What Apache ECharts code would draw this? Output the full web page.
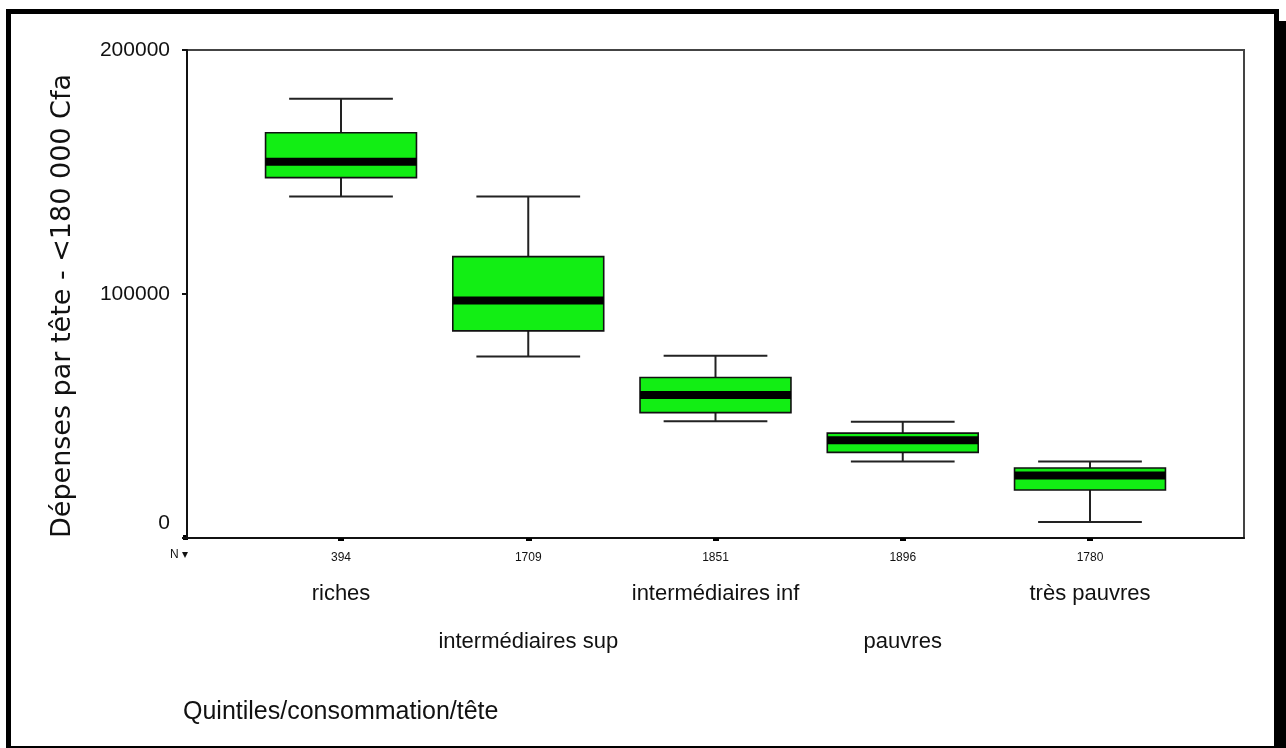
<!DOCTYPE html>
<html>
<head>
<meta charset="utf-8">
<script src="https://cdn.jsdelivr.net/npm/echarts@6/dist/echarts.min.js"></script>
<style>
  html, body { margin: 0; padding: 0; background: #fff; }
  #chart { width: 1286px; height: 748px; }
</style>
</head>
<body>
<div id="chart"></div>
<script>
// Quintile groups and sample sizes
const categories = ['riches', 'intermédiaires sup', 'intermédiaires inf', 'pauvres', 'très pauvres'];
const nCounts = ['394', '1709', '1851', '1896', '1780'];

// Box statistics (Cfa per head)
const whiskerLow  = [140000, 74400, 47800, 31400, 6600];
const quartile1   = [147700, 84900, 51400, 35100, 19700];
const median      = [154200, 97300, 58600, 40100, 25600];
const quartile3   = [166100, 115300, 65800, 43000, 28700];
const whiskerHigh = [180000, 140000, 74700, 47600, 31400];

// Value-axis ticks
const yTicks = [0, 100000, 200000];

const FONT = '"Liberation Sans", Arial, sans-serif';

const boxData = categories.map((c, i) => [
  i, whiskerLow[i], quartile1[i], median[i], quartile3[i], whiskerHigh[i]
]);

function renderBox(params, api) {
  const x = api.value(0);
  const lo = api.coord([x, api.value(1)]);
  const b1 = api.coord([x, api.value(2)]);
  const md = api.coord([x, api.value(3)]);
  const b3 = api.coord([x, api.value(4)]);
  const hi = api.coord([x, api.value(5)]);
  const unit = api.size([1, 0])[0];
  const halfBox = unit * 0.403;
  const halfCap = unit * 0.277;
  const cx = lo[0];
  const line = (x1, y1, x2, y2, w) => ({
    type: 'line',
    shape: { x1, y1, x2, y2 },
    style: { stroke: '#222', lineWidth: w }
  });
  return {
    type: 'group',
    children: [
      line(cx, b3[1], cx, hi[1], 2),
      line(cx, b1[1], cx, lo[1], 2),
      line(cx - halfCap, hi[1], cx + halfCap, hi[1], 2),
      line(cx - halfCap, lo[1], cx + halfCap, lo[1], 2),
      {
        type: 'rect',
        shape: { x: cx - halfBox, y: b3[1], width: halfBox * 2, height: b1[1] - b3[1] },
        style: { fill: '#12ee14', stroke: '#111', lineWidth: 1.6 }
      },
      {
        type: 'line',
        shape: { x1: cx - halfBox, y1: md[1], x2: cx + halfBox, y2: md[1] },
        style: { stroke: '#000', lineWidth: 8 }
      }
    ]
  };
}

const chart = echarts.init(document.getElementById('chart'), null, { renderer: 'canvas' });

chart.setOption({
  backgroundColor: '#fff',
  animation: false,
  grid: {
    left: 187, top: 50, right: 42, bottom: 210,
    show: true, borderColor: '#444', borderWidth: 2, backgroundColor: 'transparent'
  },
  xAxis: {
    type: 'value',
    min: -0.8225,
    max: 4.8225,
    splitLine: { show: false },
    axisLine: { show: true, onZero: false, lineStyle: { color: '#111', width: 2 } },
    axisTick: {
      show: true, customValues: [0, 1, 2, 3, 4], length: 3,
      lineStyle: { color: '#000', width: 6 }
    },
    axisLabel: {
      customValues: [0, 1, 2, 3, 4],
      margin: 8,
      formatter: v => {
        const i = Math.round(v);
        return i % 2 === 0
          ? '{n|' + nCounts[i] + '}\n{c|' + categories[i] + '}'
          : '{n|' + nCounts[i] + '}\n{g| }\n{c|' + categories[i] + '}';
      },
      rich: {
        n: { fontFamily: FONT, fontSize: 12, lineHeight: 24, color: '#111' },
        g: { fontFamily: FONT, fontSize: 12, lineHeight: 48 },
        c: { fontFamily: FONT, fontSize: 22, lineHeight: 48, color: '#111' }
      }
    }
  },
  yAxis: {
    type: 'value',
    min: yTicks[0],
    max: yTicks[yTicks.length - 1],
    interval: yTicks[1] - yTicks[0],
    name: 'Dépenses par tête - <180 000 Cfa',
    nameLocation: 'middle',
    nameRotate: 90,
    nameGap: 111,
    nameTextStyle: {
      fontFamily: '"DejaVu Sans", sans-serif', fontSize: 27, color: '#111',
      padding: [0, 24, 0, 0]
    },
    splitLine: { show: false },
    axisLine: { show: true, onZero: false, lineStyle: { color: '#111', width: 2 } },
    axisTick: { show: true, length: 5, lineStyle: { color: '#111', width: 2 } },
    axisLabel: {
      margin: 17,
      fontFamily: FONT,
      fontSize: 21,
      color: '#111',
      formatter: v => (v === 0 ? '{z|0}' : '{t|' + v + '}'),
      rich: {
        t: { fontFamily: FONT, fontSize: 21, color: '#111' },
        z: { fontFamily: FONT, fontSize: 21, color: '#111', padding: [0, 0, 30, 0] }
      }
    }
  },
  series: [{
    type: 'custom',
    renderItem: renderBox,
    encode: { x: 0, y: [1, 2, 3, 4, 5] },
    data: boxData,
    clip: false
  }],
  graphic: [
    // outer frame with drop shadow
    { type: 'rect', shape: { x: 6, y: 9, width: 5, height: 739 }, style: { fill: '#000' } },
    { type: 'rect', shape: { x: 6, y: 9, width: 1273, height: 5 }, style: { fill: '#000' } },
    { type: 'rect', shape: { x: 1274, y: 9, width: 5, height: 739 }, style: { fill: '#000' } },
    { type: 'rect', shape: { x: 1279, y: 21, width: 7, height: 727 }, style: { fill: '#000' } },
    { type: 'rect', shape: { x: 6, y: 746, width: 1280, height: 2 }, style: { fill: '#000' } },
    // axis corner marker
    { type: 'rect', shape: { x: 183, y: 535, width: 5, height: 5 }, style: { fill: '#000' } },
    {
      type: 'text', left: 170, top: 549,
      style: { text: 'N ▾', fontFamily: FONT, fontSize: 12, fill: '#111' }
    },
    {
      type: 'text', left: 183, top: 700,
      style: { text: 'Quintiles/consommation/tête', fontFamily: FONT, fontSize: 25, fill: '#111' }
    }
  ]
});
</script>
</body>
</html>
